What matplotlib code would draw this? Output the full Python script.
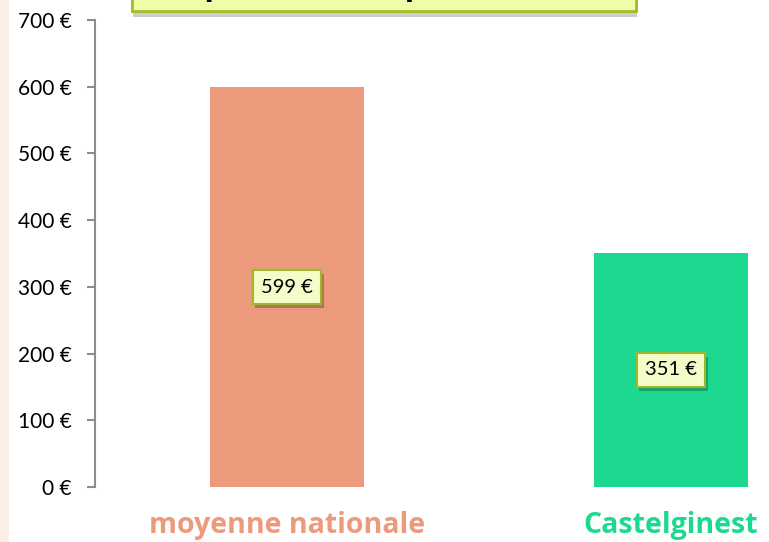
import matplotlib
matplotlib.use("Agg")
import matplotlib.pyplot as plt
import matplotlib.patheffects as pe
from matplotlib.patches import Rectangle

categories = ["moyenne nationale", "Castelginest"]
values = [599, 351]
bar_colors = ["#EC9A7C", "#1DD98F"]
yticks = [0, 100, 200, 300, 400, 500, 600, 700]
ytick_labels = [f"{v} €" for v in yticks]
value_labels = [f"{v} €" for v in values]
title = "Impôts locaux par habitant"

W, H = 769, 542
fig = plt.figure(figsize=(W / 100, H / 100), dpi=100)
fig.patch.set_facecolor("white")

# left decorative strip
fig.patches.append(Rectangle((0, 0), 9 / W, 1, transform=fig.transFigure,
                             fc="#FDEEE6", ec="none", zorder=0))

ax = fig.add_axes([95 / W, 55 / H, 768 / W, 467 / H])
ax.set_facecolor("none")
x = list(range(len(categories)))
ax.bar(x, values, width=0.4, color=bar_colors, zorder=2)
ax.set_xlim(-0.5, 1.5)
ax.set_ylim(0, 700)

for s in ["top", "right", "bottom"]:
    ax.spines[s].set_visible(False)
ax.spines["left"].set_color("#8C8C8C")
ax.spines["left"].set_linewidth(1.5)

ax.set_yticks(yticks)
ax.set_yticklabels(ytick_labels, fontsize=15, family="Lato")
ax.tick_params(axis="y", length=6, width=1.5, color="#8C8C8C", pad=11)

ax.set_xticks(x)
ax.set_xticklabels(categories, fontsize=20.5, fontweight="bold", family="Open Sans")
ax.tick_params(axis="x", length=0, pad=17.5)
for lab, c in zip(ax.get_xticklabels(), bar_colors):
    lab.set_color(c)

for xi, v, lbl in zip(x, values, value_labels):
    t = ax.text(xi, v / 2, lbl, ha="center", va="center", fontsize=14.5,
                family="Lato", zorder=5,
                bbox=dict(boxstyle="square,pad=0.42", fc="#F3FDC9",
                          ec="#9DB92B", lw=1.5))
    t.get_bbox_patch().set_path_effects(
        [pe.withSimplePatchShadow(offset=(2, -3), shadow_rgbFace="black", alpha=0.25),
         pe.Normal()])

# title box (cut off at top of figure, as in the reference)
box = Rectangle((132 / W, 1 - 11 / H), (636 - 132) / W, 60 / H,
                transform=fig.transFigure, fc="#EEFDA8", ec="#A4BE2A", lw=2,
                zorder=10)
box.set_path_effects([pe.withSimplePatchShadow(offset=(1, -4), shadow_rgbFace="black", alpha=0.2),
                      pe.Normal()])
fig.patches.append(box)
fig.text(384 / W, 1 + 4 / H, title, ha="center", va="baseline", fontsize=27,
         fontweight="bold", family="Lato", color="black", zorder=11)

fig.savefig("out.png", dpi=100)
